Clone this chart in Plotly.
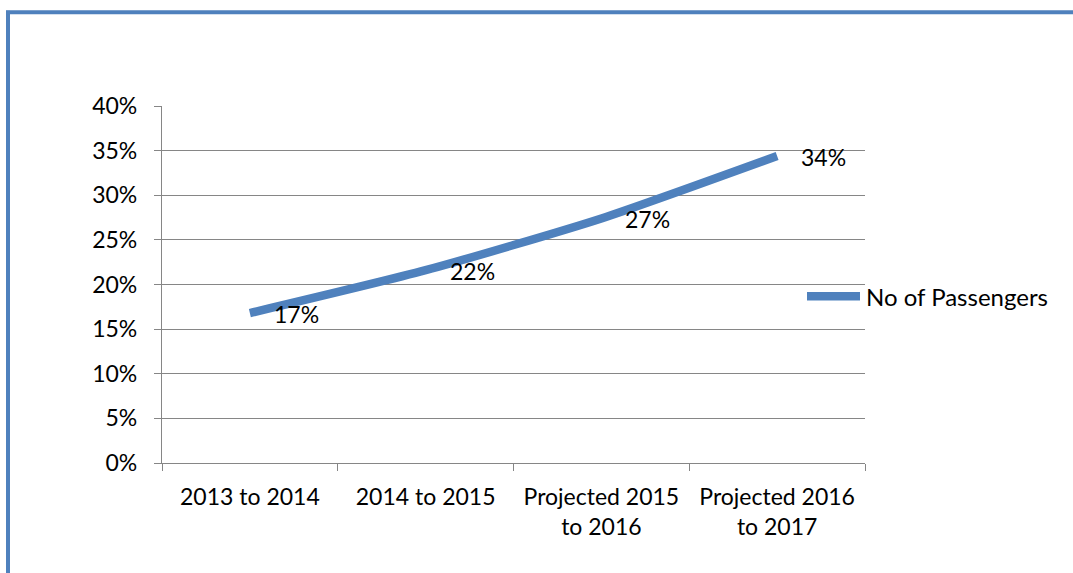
import plotly.graph_objects as go

categories = ["2013 to 2014", "2014 to 2015", "Projected 2015<br>to 2016", "Projected 2016<br>to 2017"]
passengers = [0.168, 0.216, 0.274, 0.344]
series_name = "No of Passengers"
y_ticks = [0, 0.05, 0.10, 0.15, 0.20, 0.25, 0.30, 0.35, 0.40]

W, H = 1073, 573
L, R, T, B = 162, 865, 105.5, 463
BLUE = "#4F81BD"
FONT = dict(family="Lato", size=23, color="black")

def px_x(p):
    return (p - L) / (R - L)

def px_y(p):
    return (B - p) / (B - T)

fig = go.Figure()
fig.add_trace(go.Scatter(
    x=categories, y=passengers, mode="lines", name=series_name,
    line=dict(color=BLUE, width=8.5, shape="spline", smoothing=0.6),
    showlegend=False,
))

for c, v in zip(categories, passengers):
    fig.add_annotation(x=c, y=v, text=f"{round(v*100)}%", showarrow=False,
                       xanchor="left", yanchor="middle", xshift=22, yshift=-1,
                       font=FONT)

# manual legend
fig.add_shape(type="line", xref="paper", yref="paper",
              x0=px_x(807), x1=px_x(860), y0=px_y(296), y1=px_y(296),
              line=dict(color=BLUE, width=8.5))
fig.add_annotation(xref="paper", yref="paper", x=px_x(864), y=px_y(296),
                   text=series_name, showarrow=False, xanchor="left", yanchor="middle",
                   font=dict(family="Lato", size=24, color="black"))

# outer frame (left and top)
fig.add_shape(type="line", xref="paper", yref="paper",
              x0=px_x(8), x1=px_x(8), y0=px_y(10), y1=px_y(600),
              line=dict(color=BLUE, width=4))
fig.add_shape(type="line", xref="paper", yref="paper",
              x0=px_x(6), x1=px_x(1100), y0=px_y(11.5), y1=px_y(11.5),
              line=dict(color=BLUE, width=4))

fig.update_layout(
    width=W, height=H,
    margin=dict(l=L, r=W - R, t=T, b=H - B),
    paper_bgcolor="white", plot_bgcolor="white",
    font=FONT,
)
fig.update_xaxes(
    type="category", tickson="boundaries", ticks="outside", ticklen=7,
    tickcolor="#868686", tickwidth=1.3,
    showline=True, linecolor="#868686", linewidth=1.3,
    showgrid=False, range=[-0.5, 3.5], tickfont=FONT,
    ticklabelstandoff=13,
)
fig.update_yaxes(
    range=[0, 0.4], tickvals=y_ticks, tickformat=".0%",
    ticks="outside", ticklen=7, tickcolor="#868686", tickwidth=1.3,
    showline=True, linecolor="#868686", linewidth=1.3,
    showgrid=True, gridcolor="#868686", gridwidth=1.3,
    zeroline=False, tickfont=FONT, ticklabelstandoff=12,
)

fig.write_html("out.html")
